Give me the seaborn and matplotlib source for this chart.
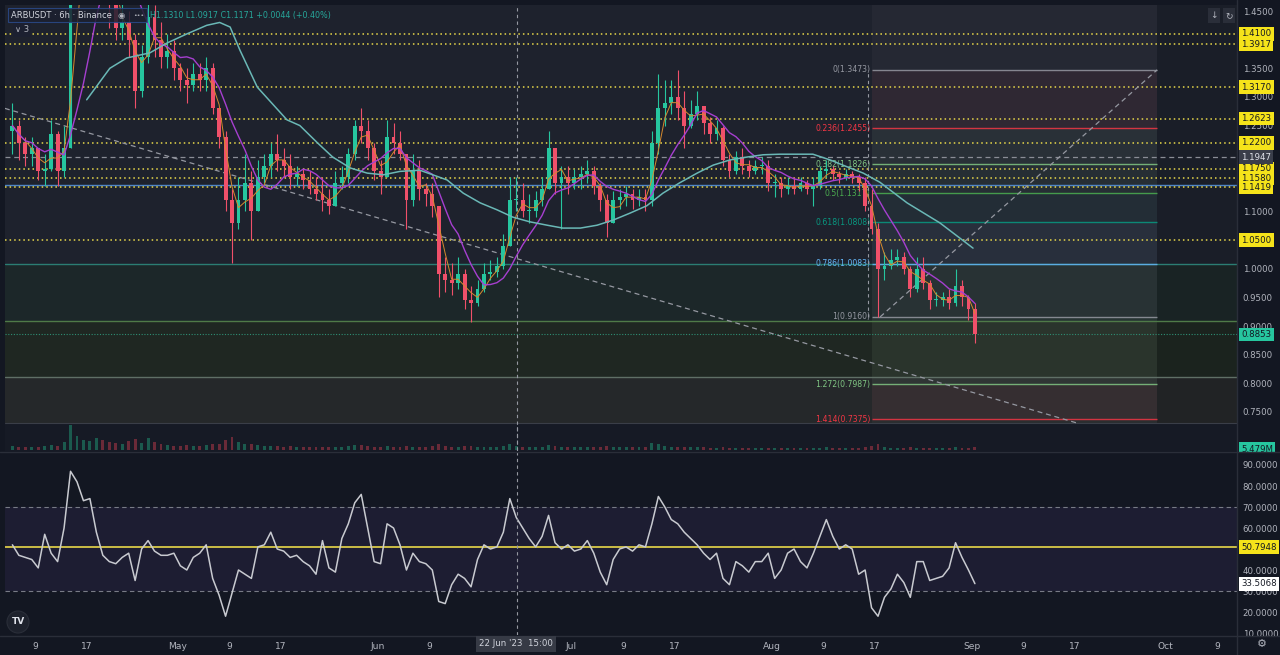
import numpy as np
import pandas as pd
import matplotlib
matplotlib.use("Agg")
import matplotlib.pyplot as plt
import matplotlib.dates as mdates
import matplotlib.transforms as mtransforms
from matplotlib.patches import Rectangle, Circle
from matplotlib.lines import Line2D
import seaborn as sns

# ── Data: ARBUSDT, one candle per day ─────────────────────────────────
start_day = "2023-04-05"
open_first = 1.24

close = [1.25, 1.22, 1.20, 1.21, 1.17, 1.175, 1.235, 1.17, 1.21, 1.50,
         1.55, 1.58, 1.62, 1.66, 1.58, 1.47, 1.42, 1.43, 1.40, 1.31,
         1.37, 1.44, 1.40, 1.37, 1.38, 1.35, 1.33, 1.32, 1.34, 1.33,
         1.35, 1.28, 1.23, 1.12, 1.08, 1.12, 1.15, 1.10, 1.16, 1.18,
         1.20, 1.19, 1.18, 1.16, 1.165, 1.155, 1.14, 1.13, 1.12, 1.11,
         1.15, 1.16, 1.20, 1.25, 1.24, 1.21, 1.17, 1.16, 1.23, 1.22,
         1.20, 1.12, 1.17, 1.14, 1.13, 1.11, 0.99, 0.98, 0.975, 0.99,
         0.945, 0.94, 0.965, 0.99, 0.995, 1.005, 1.04, 1.12, 1.12, 1.10,
         1.10, 1.12, 1.14, 1.21, 1.15, 1.16, 1.15, 1.16, 1.165, 1.17,
         1.145, 1.12, 1.08, 1.12, 1.125, 1.13, 1.12, 1.125, 1.12, 1.22,
         1.28, 1.29, 1.30, 1.28, 1.25, 1.27, 1.285, 1.255, 1.235, 1.245,
         1.19, 1.17, 1.195, 1.18, 1.17, 1.18, 1.18, 1.15, 1.15, 1.14,
         1.145, 1.14, 1.15, 1.14, 1.145, 1.17, 1.175, 1.165, 1.16, 1.165,
         1.16, 1.15, 1.11, 1.07, 1.00, 1.005, 1.015, 1.02, 1.00, 0.965,
         1.00, 0.975, 0.945, 0.945, 0.95, 0.94, 0.97, 0.95, 0.93, 0.8853]

high = [1.29, 1.26, 1.23, 1.23, 1.21, 1.20, 1.26, 1.24, 1.25, 1.56,
        1.60, 1.64, 1.70, 1.75, 1.68, 1.60, 1.48, 1.47, 1.45, 1.41,
        1.39, 1.52, 1.46, 1.43, 1.41, 1.40, 1.36, 1.35, 1.36, 1.36,
        1.37, 1.36, 1.28, 1.24, 1.14, 1.16, 1.20, 1.17, 1.19, 1.20,
        1.22, 1.235, 1.21, 1.20, 1.18, 1.175, 1.17, 1.16, 1.16, 1.14,
        1.17, 1.18, 1.21, 1.26, 1.28, 1.26, 1.22, 1.19, 1.26, 1.255,
        1.24, 1.20, 1.20, 1.19, 1.15, 1.15, 1.11, 1.02, 1.01, 1.02,
        1.00, 0.97, 0.98, 1.01, 1.015, 1.02, 1.06, 1.16, 1.16, 1.15,
        1.13, 1.135, 1.16, 1.24, 1.21, 1.18, 1.18, 1.175, 1.18, 1.19,
        1.18, 1.15, 1.13, 1.135, 1.14, 1.145, 1.14, 1.14, 1.14, 1.24,
        1.34, 1.33, 1.33, 1.347, 1.31, 1.295, 1.31, 1.285, 1.265, 1.26,
        1.25, 1.20, 1.205, 1.21, 1.19, 1.19, 1.195, 1.19, 1.165, 1.16,
        1.16, 1.16, 1.16, 1.155, 1.16, 1.18, 1.19, 1.18, 1.17, 1.175,
        1.17, 1.165, 1.16, 1.14, 1.08, 1.03, 1.035, 1.035, 1.03, 1.005,
        1.02, 1.02, 0.98, 0.96, 0.96, 0.965, 1.00, 0.98, 0.955, 0.94]

low = [1.20, 1.19, 1.18, 1.18, 1.155, 1.145, 1.17, 1.145, 1.16, 1.21,
       1.48, 1.52, 1.55, 1.58, 1.52, 1.42, 1.40, 1.40, 1.37, 1.28,
       1.30, 1.36, 1.37, 1.35, 1.35, 1.33, 1.31, 1.29, 1.31, 1.31,
       1.31, 1.27, 1.21, 1.10, 1.01, 1.07, 1.10, 1.05, 1.10, 1.15,
       1.16, 1.17, 1.16, 1.14, 1.145, 1.14, 1.13, 1.12, 1.10, 1.095,
       1.11, 1.14, 1.15, 1.19, 1.22, 1.19, 1.155, 1.13, 1.16, 1.20,
       1.19, 1.07, 1.11, 1.12, 1.11, 1.09, 0.95, 0.96, 0.955, 0.965,
       0.93, 0.907, 0.935, 0.96, 0.98, 0.985, 1.00, 1.04, 1.10, 1.09,
       1.08, 1.09, 1.11, 1.14, 1.13, 1.07, 1.13, 1.14, 1.14, 1.15,
       1.13, 1.10, 1.055, 1.08, 1.105, 1.11, 1.105, 1.11, 1.10, 1.11,
       1.20, 1.25, 1.27, 1.26, 1.21, 1.245, 1.26, 1.235, 1.22, 1.225,
       1.18, 1.16, 1.165, 1.165, 1.16, 1.165, 1.165, 1.135, 1.125, 1.125,
       1.13, 1.13, 1.135, 1.13, 1.11, 1.14, 1.16, 1.155, 1.15, 1.155,
       1.15, 1.135, 1.10, 1.06, 0.916, 0.98, 1.00, 1.005, 0.99, 0.95,
       0.96, 0.965, 0.93, 0.935, 0.935, 0.93, 0.935, 0.935, 0.91, 0.87]

volume = [4, 3, 3, 3, 3, 4, 5, 4, 8, 24,
          14, 10, 9, 12, 10, 8, 7, 6, 9, 11,
          7, 12, 8, 6, 5, 4, 4, 5, 4, 4,
          5, 6, 6, 10, 13, 8, 6, 6, 5, 4,
          4, 4, 3, 4, 3, 3, 3, 3, 3, 3,
          3, 3, 4, 5, 5, 4, 3, 3, 4, 3,
          3, 4, 3, 3, 3, 4, 6, 4, 3, 3,
          4, 4, 3, 3, 3, 3, 4, 6, 4, 3,
          3, 3, 3, 5, 4, 3, 3, 3, 3, 3,
          3, 3, 4, 3, 3, 3, 3, 3, 3, 7,
          6, 4, 3, 3, 3, 3, 3, 3, 2, 2,
          3, 2, 2, 2, 2, 2, 2, 2, 2, 2,
          2, 2, 2, 2, 2, 2, 3, 2, 2, 2,
          2, 2, 3, 4, 6, 3, 2, 2, 2, 3,
          2, 2, 2, 2, 2, 2, 3, 2, 2, 3]

rsi = [52, 47, 46, 45, 41, 57, 48, 44, 60, 87,
       82, 73, 74, 58, 47, 44, 43, 46, 48, 35,
       50, 54, 49, 47, 47, 48, 42, 40, 46, 48,
       52, 36, 28, 18, 29, 40, 38, 36, 51, 52,
       58, 50, 49, 46, 47, 44, 42, 38, 54, 41,
       39, 55, 62, 72, 76, 60, 44, 43, 62, 60,
       52, 40, 48, 44, 43, 40, 25, 24, 33, 38,
       36, 32, 45, 52, 50, 51, 58, 74, 65, 60,
       55, 51, 56, 66, 53, 50, 52, 49, 50, 54,
       48, 39, 33, 45, 50, 51, 49, 52, 51, 62,
       75, 70, 64, 62, 58, 55, 52, 48, 45, 48,
       36, 33, 44, 42, 39, 44, 44, 48, 36, 40,
       48, 50, 44, 41, 48, 56, 64, 56, 50, 52,
       50, 38, 40, 22, 18, 27, 31, 38, 34, 27,
       44, 44, 35, 36, 37, 41, 53, 46, 40, 33.5068]

# slow moving average (teal), read at a few points
teal_dates = ["2023-04-17 00:00", "2023-04-20 14:00", "2023-04-23 05:00", "2023-04-26 19:00",
              "2023-04-29 10:00", "2023-05-02 12:00", "2023-05-05 14:00", "2023-05-07 14:00",
              "2023-05-09 05:00", "2023-05-10 17:00", "2023-05-13 10:00", "2023-05-18 00:00",
              "2023-05-20 00:00", "2023-05-22 17:00", "2023-05-25 02:00", "2023-05-27 19:00",
              "2023-05-30 10:00", "2023-06-01 22:00", "2023-06-04 12:00", "2023-06-07 14:00",
              "2023-06-09 14:00", "2023-06-11 19:00", "2023-06-14 07:00", "2023-06-16 22:00",
              "2023-06-19 12:00", "2023-06-22 00:00", "2023-06-24 14:00", "2023-06-27 07:00",
              "2023-06-29 17:00", "2023-07-02 10:00", "2023-07-05 00:00", "2023-07-07 12:00",
              "2023-07-10 02:00", "2023-07-12 17:00", "2023-07-15 05:00", "2023-07-17 19:00",
              "2023-07-20 12:00", "2023-07-23 00:00", "2023-07-25 14:00", "2023-07-28 05:00",
              "2023-07-30 17:00", "2023-08-02 07:00", "2023-08-05 00:00", "2023-08-07 10:00",
              "2023-08-10 02:00", "2023-08-12 17:00", "2023-08-15 05:00", "2023-08-17 19:00",
              "2023-08-22 00:00", "2023-08-27 02:00", "2023-09-01 05:00"]
teal_vals = [1.295, 1.350, 1.368, 1.377, 1.394, 1.410, 1.425, 1.430,
             1.422, 1.382, 1.317, 1.260, 1.250, 1.220, 1.195, 1.176,
             1.167, 1.164, 1.170, 1.172, 1.164, 1.155, 1.132, 1.115,
             1.103, 1.090, 1.082, 1.076, 1.071, 1.071, 1.076, 1.085,
             1.097, 1.110, 1.132, 1.150, 1.167, 1.181, 1.190, 1.195,
             1.199, 1.200, 1.200, 1.200, 1.190, 1.178, 1.167, 1.151,
             1.115, 1.080, 1.036]

# horizontal levels drawn on the chart
yellow_levels = [1.4100, 1.3917, 1.3170, 1.2623, 1.2200, 1.1750, 1.1580, 1.1419, 1.0500]
dashed_level = 1.1947
last_price = 0.8853

fib_ratios = [0, 0.236, 0.382, 0.5, 0.618, 0.786, 1, 1.272, 1.414]
fib_prices = [1.3473, 1.2455, 1.1826, 1.1317, 1.0808, 1.0083, 0.9160, 0.7987, 0.7375]
fib_colors = ['#9598a1', '#f23645', '#81c784', '#4caf50', '#089981',
              '#64b5f6', '#9598a1', '#81c784', '#f23645']

rsi_ma = 50.7948
rsi_last = 33.5068

# scale labels that are not hidden behind a price tag
price_ticks = [1.45, 1.35, 1.30, 1.25, 1.10, 1.00, 0.95, 0.90, 0.85, 0.80, 0.75]
rsi_ticks = [90, 80, 70, 60, 40, 30, 20, 10]

tick_dates = ["2023-04-09", "2023-04-17", "2023-05-01", "2023-05-09", "2023-05-17",
              "2023-06-01", "2023-06-09", "2023-06-17", "2023-07-01", "2023-07-09",
              "2023-07-17", "2023-08-01", "2023-08-09", "2023-08-17", "2023-09-01",
              "2023-09-09", "2023-09-17", "2023-10-01", "2023-10-09"]
tick_labels = ["9", "17", "May", "9", "17", "Jun", "9", "17", "Jul", "9",
               "17", "Aug", "9", "17", "Sep", "9", "17", "Oct", "9"]

# ── Frame ─────────────────────────────────────────────────────────────
df = pd.DataFrame({"close": close, "high": high, "low": low,
                   "volume": volume, "rsi": rsi})
df["date"] = pd.date_range(start_day, periods=len(df), freq="D") + pd.Timedelta(hours=12)
df["open"] = df["close"].shift(1).fillna(open_first)
df["ma_fast"] = df["close"].rolling(3, min_periods=1).mean()
df["ma_mid"] = df["close"].rolling(8, min_periods=1).mean()
df["x"] = mdates.date2num(df["date"])
up = df["close"] >= df["open"]

teal_x = mdates.date2num(pd.to_datetime(teal_dates))

# ── Style ────────────────────────────────────────────────────────────
BG = "#131722"
TXT = "#b2b5be"
sns.set_theme(style="dark")
plt.rcParams["font.family"] = ["DejaVu Sans"]
plt.rcParams["axes.unicode_minus"] = False

W, H = 1280, 655
fig = plt.figure(figsize=(W / 100, H / 100), dpi=100, facecolor=BG)


def px_axes(x0, y0, x1, y1):
    return fig.add_axes([x0 / W, 1 - y1 / H, (x1 - x0) / W, (y1 - y0) / H])


ax = px_axes(5, 5, 1237, 451)
axv = px_axes(5, 424, 1237, 450)
axr = px_axes(5, 452, 1237, 635)

anchor = mdates.date2num(pd.Timestamp("2023-04-09"))
xmin, xmax = anchor - 4.644, anchor + 186.07
top_price, bot_price = 1.4605, 0.6818
zone_floor = 0.7306

for a in (ax, axv, axr):
    a.set_xlim(xmin, xmax)
    for s in a.spines.values():
        s.set_visible(False)
    a.grid(False)
ax.set_facecolor("#161a25")
axv.patch.set_alpha(0)
axr.set_facecolor(BG)
ax.set_ylim(bot_price, top_price)

# ── Background zones ─────────────────────────────────────────────────
ax.axhspan(zone_floor, top_price + 1, color="#1e222d", zorder=0.1, lw=0)
ax.axhspan(0.909, 1.0075, color="#1c2729", zorder=0.2, lw=0)
ax.axhspan(0.811, 0.909, color="#1f2722", zorder=0.2, lw=0)
ax.axhspan(zone_floor, 0.811, color="#25282a", zorder=0.2, lw=0)

fib_x0 = mdates.date2num(pd.Timestamp("2023-08-16 14:00"))
fib_x1 = mdates.date2num(pd.Timestamp("2023-09-29 17:00"))
ax.fill_between([fib_x0, fib_x1], zone_floor, top_price, color="white", alpha=0.03, lw=0, zorder=0.3)
ax.fill_between([fib_x1, xmax], zone_floor, top_price, color="black", alpha=0.10, lw=0, zorder=0.3)
for i in range(len(fib_prices) - 1):
    ax.fill_between([fib_x0, fib_x1], fib_prices[i + 1], fib_prices[i],
                    color=fib_colors[i + 1], alpha=0.05, lw=0, zorder=0.4)

# ── Horizontal levels ────────────────────────────────────────────────
ax.axhline(zone_floor, color="#3a3e48", lw=0.8, zorder=1)
ax.axhline(1.0075, color="#2b7d73", lw=1.0, zorder=1)
ax.axhline(0.909, color="#4f7a48", lw=1.0, zorder=1)
ax.axhline(0.811, color="#5f6f66", lw=1.0, zorder=1)
ax.axhline(1.1465, color="#4f86c6", lw=1.0, zorder=1)
ax.axhline(last_price, color="#2e8f74", lw=0.8, ls=(0, (1, 1.5)), zorder=1)
ax.axhline(dashed_level, color="#8a8d96", lw=0.9, ls=(0, (4, 3)), zorder=1)
for lv in yellow_levels:
    ax.axhline(lv, color="#e8d84a", lw=1.1, ls=(0, (1, 2)), zorder=1.5)

for r, p, c in zip(fib_ratios, fib_prices, fib_colors):
    ax.hlines(p, fib_x0, fib_x1, color=c, lw=1.0, alpha=0.85, zorder=1.6)
    ax.text(fib_x0 - 0.3, p, f"{r:g}({p:.4f})", ha="right", va="center",
            fontsize=5.6, color=c, zorder=1.7)

# trend lines and fib anchors
trend_a = (pd.Timestamp("2023-04-04 08:00"), 1.28)
trend_b = (pd.Timestamp("2023-09-17 12:00"), 0.73)
ax.plot(mdates.date2num([trend_a[0], trend_b[0]]), [trend_a[1], trend_b[1]],
        color="#9598a1", lw=0.9, ls=(0, (4, 3)), zorder=1.8)
fib_a = (pd.Timestamp("2023-08-17 20:00"), fib_prices[6])
fib_b = (pd.Timestamp("2023-09-29 17:00"), fib_prices[0])
ax.plot(mdates.date2num([fib_a[0], fib_b[0]]), [fib_a[1], fib_b[1]],
        color="#9598a1", lw=0.9, ls=(0, (4, 3)), zorder=1.8)
ax.vlines(mdates.date2num(pd.Timestamp("2023-08-15 23:00")), fib_prices[6], fib_prices[0],
          color="#9598a1", lw=0.8, ls=(0, (3, 3)), zorder=1.8)

# ── Candles ──────────────────────────────────────────────────────────
UP, DN = "#26c69f", "#f0506a"
cols = np.where(up, UP, DN)
ax.vlines(df["x"], df["low"], df["high"], colors=cols, lw=0.8, zorder=4)
body_lo = np.minimum(df["open"], df["close"])
body_h = np.maximum(np.abs(df["close"] - df["open"]), 0.002)
ax.bar(df["x"], body_h, bottom=body_lo, width=0.6, color=cols, lw=0, zorder=5)

sns.lineplot(x=df["x"], y=df["ma_fast"], ax=ax, color="#d68a2e", lw=0.7, zorder=6)
sns.lineplot(x=df["x"], y=df["ma_mid"], ax=ax, color="#a63fd0", lw=1.0, zorder=6)
sns.lineplot(x=teal_x, y=teal_vals, ax=ax, color="#6ab8b6", lw=1.1, zorder=6)
ax.set_xlim(xmin, xmax)
ax.set_ylim(bot_price, top_price)

# volume strip
vcols = np.where(up, "#1b5a4e", "#6a2a38")
axv.bar(df["x"], df["volume"], width=0.45, color=vcols, lw=0)
axv.set_ylim(0, max(volume) * 1.05)
axv.set_xticks([])
axv.set_yticks([])

# ── RSI pane ─────────────────────────────────────────────────────────
axr.set_ylim(9.05, 96.19)
axr.axhspan(30, 70, color="#7e57c2", alpha=0.10, lw=0)
axr.axhline(70, color="#787b86", lw=0.8, ls=(0, (4, 3)))
axr.axhline(30, color="#787b86", lw=0.8, ls=(0, (4, 3)))
axr.axhline(rsi_ma, color="#e8d84a", lw=1.2)
sns.lineplot(x=df["x"], y=df["rsi"], ax=axr, color="#c8cad0", lw=1.1)
axr.set_xlim(xmin, xmax)

# crosshair
cross_x = mdates.date2num(pd.Timestamp("2023-06-22 15:00"))
for a in (ax, axv, axr):
    a.axvline(cross_x, color="#9598a1", lw=0.8, ls=(0, (3, 3)), zorder=7)

# ── Axes ticks ───────────────────────────────────────────────────────
ax.yaxis.tick_right()
ax.set_yticks(price_ticks)
ax.set_yticklabels([f"{v:.4f}" for v in price_ticks])
ax.tick_params(axis="y", length=0, pad=4, labelsize=6.2, colors=TXT)
ax.set_xticks([])
ax.set_xlabel("")
ax.set_ylabel("")

axr.yaxis.tick_right()
axr.set_yticks(rsi_ticks)
axr.set_yticklabels([f"{v:.4f}" for v in rsi_ticks])
axr.tick_params(axis="y", length=0, pad=4, labelsize=6.2, colors=TXT)
axr.set_xticks(mdates.date2num(pd.to_datetime(tick_dates)))
axr.set_xticklabels(tick_labels)
axr.tick_params(axis="x", length=0, pad=5, labelsize=6.6, colors=TXT)
axr.set_xlabel("")
axr.set_ylabel("")


# price tags on the right scale
def tag(a, v, s, fc, tc):
    tr = mtransforms.blended_transform_factory(a.transAxes, a.transData)
    a.text(1.0033, v, s, transform=tr, ha="left", va="center", fontsize=6.2, color=tc,
           clip_on=False, zorder=20,
           bbox=dict(boxstyle="square,pad=0.28", fc=fc, ec="none"))


for lv in yellow_levels:
    tag(ax, lv, f"{lv:.4f}", "#f5e31a", "#131722")
tag(ax, dashed_level, f"{dashed_level:.4f}", "#3a3e4a", "#e0e3eb")
tag(ax, last_price, f"{last_price:.4f}", "#26c69f", "#131722")
tag(axr, rsi_ma, f"{rsi_ma:.4f}", "#f5e31a", "#131722")
tag(axr, rsi_last, f"{rsi_last:.4f}", "#ffffff", "#131722")

# volume tag, clipped at the pane border
fig.text(1241 / W, 1 - 449 / H, "5.479M", fontsize=6.2, color="#131722", va="center",
         bbox=dict(boxstyle="square,pad=0.28", fc="#26c69f", ec="none"), zorder=20)
fig.add_artist(Rectangle((1237.5 / W, 1 - 459 / H), 43 / W, 7.5 / H, transform=fig.transFigure,
                         fc=BG, ec="none", zorder=21))

# ── Frame lines and chrome ───────────────────────────────────────────
line_c = "#2a2e39"
fig.add_artist(Line2D([1237 / W, 1237 / W], [0, 1], color=line_c, lw=1, zorder=22))
fig.add_artist(Line2D([0, 1], [1 - 451.5 / H, 1 - 451.5 / H], color=line_c, lw=1, zorder=22))
fig.add_artist(Line2D([0, 1], [1 - 635.5 / H, 1 - 635.5 / H], color=line_c, lw=1, zorder=22))

# crosshair time label
fig.text(516 / W, 1 - 644 / H, "22 Jun '23  15:00", ha="center", va="center", fontsize=6.2,
         color="#d1d4dc", zorder=23,
         bbox=dict(boxstyle="square,pad=0.4", fc="#363a45", ec="none"))

# symbol legend
fig.add_artist(Rectangle((8 / W, 1 - 22 / H), 139 / W, 14 / H, transform=fig.transFigure,
                         fc="#1c2030", ec="#2b4b8c", lw=0.8, alpha=0.85, zorder=23))
fig.text(11 / W, 1 - 15.5 / H, "ARBUSDT · 6h · Binance", fontsize=6.0, color="#d1d4dc",
         va="center", zorder=24)
fig.text(118 / W, 1 - 15.5 / H, "◉", fontsize=6.0, color="#b2b5be", va="center", zorder=24)
fig.text(133 / W, 1 - 15.5 / H, "•••", fontsize=4.5, color="#b2b5be", va="center", zorder=24)
fig.text(150 / W, 1 - 15.5 / H, "H1.1310 L1.0917 C1.1171 +0.0044 (+0.40%)", fontsize=5.8,
         color="#26a69a", va="center", zorder=24)
fig.text(15 / W, 1 - 30 / H, "∨ 3", fontsize=6, color="#b2b5be", va="center", zorder=24,
         bbox=dict(boxstyle="square,pad=0.25", fc="#1c2030", ec="none"))

# top right buttons
for cx, s in [(1214, "↓"), (1229, "↻")]:
    fig.text(cx / W, 1 - 15.5 / H, s, ha="center", va="center", fontsize=6.5, color="#b2b5be",
             zorder=24, bbox=dict(boxstyle="square,pad=0.3", fc="#2a2e39", ec="none"))

# logo and gear
fig.add_artist(Circle((0.18, (H - 622) / 100), 0.11, transform=fig.dpi_scale_trans,
                      fc="#1e222d", ec="#2a2e39", lw=0.8, zorder=23))
fig.text(18 / W, 1 - 622 / H, "TV", ha="center", va="center", fontsize=6.5,
         fontweight="bold", color="#e0e3eb", zorder=24)
fig.text(1262 / W, 1 - 644 / H, "⚙", ha="center", va="center", fontsize=8, color=TXT, zorder=24)

fig.savefig("out.png", dpi=100, facecolor=BG)
